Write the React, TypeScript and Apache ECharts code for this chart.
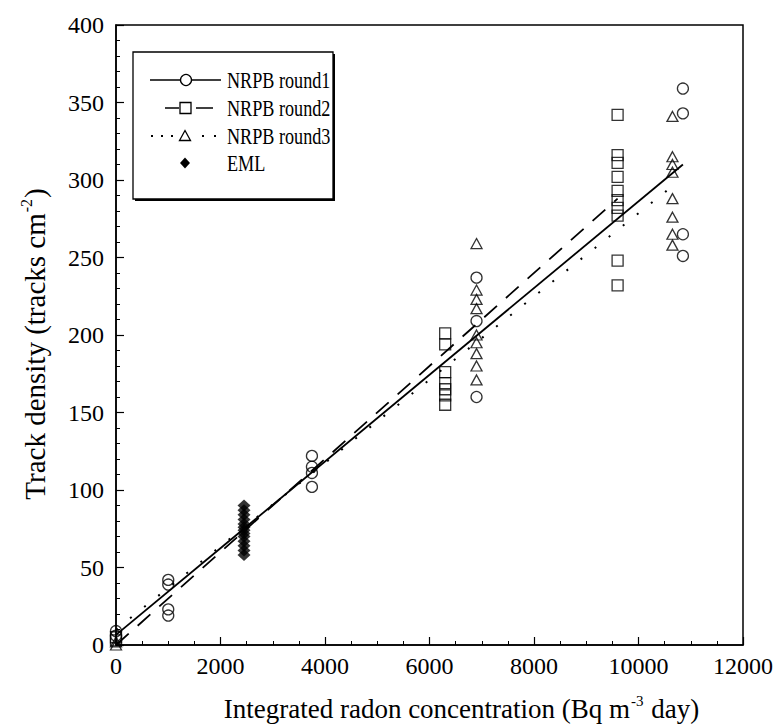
import React, { useEffect, useRef } from "react";
import * as echarts from "echarts";

// ---- data ----
const xTickValues = [0, 2000, 4000, 6000, 8000, 10000, 12000];
const yTickValues = [0, 50, 100, 150, 200, 250, 300, 350, 400];

const round1Points: [number, number][] = [
  [0, 9], [0, 6],
  [1000, 42], [1000, 39], [1000, 23], [1000, 19],
  [3750, 122], [3750, 115], [3750, 111], [3750, 102],
  [6900, 237], [6900, 209], [6900, 160],
  [10850, 359], [10850, 343], [10850, 265], [10850, 251],
];
const round2Points: [number, number][] = [
  [0, 5], [0, 3],
  [6300, 201], [6300, 194], [6300, 176], [6300, 169], [6300, 165], [6300, 161], [6300, 155],
  [9600, 342], [9600, 316], [9600, 311], [9600, 302], [9600, 293], [9600, 287],
  [9600, 282], [9600, 277], [9600, 248], [9600, 232],
];
const round3Points: [number, number][] = [
  [0, 2], [0, 0],
  [6900, 259], [6900, 229], [6900, 223], [6900, 217], [6900, 200], [6900, 195],
  [6900, 188], [6900, 180], [6900, 171],
  [10650, 341], [10650, 315], [10650, 310], [10650, 305], [10650, 288],
  [10650, 276], [10650, 265], [10650, 258],
];
const emlPoints: [number, number][] = [
  [2450, 90], [2450, 87], [2450, 84], [2450, 81], [2450, 78], [2450, 76], [2450, 74],
  [2450, 72], [2450, 70], [2450, 67], [2450, 64], [2450, 61], [2450, 58],
];
const round1Fit: [number, number][] = [[0, 6.5], [10850, 310]];
const round2Fit: [number, number][] = [[0, 0], [9600, 288]];
const round3Fit: [number, number][] = [[0, 10], [10650, 296]];

const legendNames = ["NRPB round1", "NRPB round2", "NRPB round3", "EML"];

const SERIF = "'Liberation Serif', 'Times New Roman', serif";

export default function App() {
  const ref = useRef<HTMLDivElement>(null);

  useEffect(() => {
    document.body.style.margin = "0";
    const chart = echarts.init(ref.current!, null, { renderer: "svg" });
    const open = { color: "rgba(255,255,255,0)", borderColor: "#000", borderWidth: 1.3 };

    const lx = 227; // legend text x
    const rows = [80, 108, 136, 163];
    const mx = 185;
    const fs = 23;

    chart.setOption({
      animation: false,
      backgroundColor: "#fff",
      grid: {
        left: 116, right: 34, top: 25, bottom: 83,
        show: true, borderColor: "#000", borderWidth: 1.5, backgroundColor: "transparent",
      },
      xAxis: {
        type: "value", min: 0, max: 12000, interval: 2000,
        axisLine: { lineStyle: { color: "#000", width: 1.5 } },
        axisTick: { inside: true, length: 8, lineStyle: { color: "#000", width: 1.2 } },
        minorTick: { show: true, splitNumber: 4, length: 4, lineStyle: { color: "#000", width: 1 } },
        splitLine: { show: false },
        axisLabel: {
          color: "#000", fontFamily: SERIF, fontSize: 24, margin: 9,
          formatter: (v: number) => (xTickValues.includes(v) ? String(v) : ""),
        },
        name: "{a|Integrated radon concentration (Bq m}{s|-3}{a| day)}",
        nameLocation: "middle", nameGap: 48,
        nameTextStyle: {
          padding: [0, 0, 0, 64],
          rich: {
            a: { fontFamily: SERIF, fontSize: 27, color: "#000", lineHeight: 32 },
            s: { fontFamily: SERIF, fontSize: 15, color: "#000", verticalAlign: "top", lineHeight: 32, padding: [0, 1, 0, 1] },
          },
        },
      },
      yAxis: {
        type: "value", min: 0, max: 400, interval: 50,
        axisLine: { lineStyle: { color: "#000", width: 1.5 } },
        axisTick: { inside: true, length: 8, lineStyle: { color: "#000", width: 1.2 } },
        minorTick: { show: true, splitNumber: 5, length: 4, lineStyle: { color: "#000", width: 1 } },
        splitLine: { show: false },
        axisLabel: {
          color: "#000", fontFamily: SERIF, fontSize: 24, margin: 12,
          formatter: (v: number) => (yTickValues.includes(v) ? String(v) : ""),
        },
        name: "{a|Track density (tracks cm}{s|-2}{a|)}",
        nameLocation: "middle", nameRotate: 90, nameGap: 64,
        nameTextStyle: {
          padding: [0, 18, 0, 0],
          rich: {
            a: { fontFamily: SERIF, fontSize: 29, color: "#000", lineHeight: 34 },
            s: { fontFamily: SERIF, fontSize: 16, color: "#000", verticalAlign: "top", lineHeight: 34, padding: [0, 1, 0, 1] },
          },
        },
      },
      series: [
        { name: legendNames[0] + " fit", type: "line", data: round1Fit, showSymbol: false, symbol: "none",
          lineStyle: { color: "#000", width: 1.8 }, z: 2 },
        { name: legendNames[1] + " fit", type: "line", data: round2Fit, showSymbol: false, symbol: "none",
          lineStyle: { color: "#000", width: 1.8, type: [17, 12] }, z: 2 },
        { name: legendNames[2] + " fit", type: "line", data: round3Fit, showSymbol: false, symbol: "none",
          lineStyle: { color: "#000", width: 2, type: [2, 16] }, z: 2 },
        { name: legendNames[0], type: "scatter", data: round1Points, symbol: "circle", symbolSize: 11, itemStyle: open, z: 3 },
        { name: legendNames[1], type: "scatter", data: round2Points, symbol: "rect", symbolSize: 11, itemStyle: open, z: 3 },
        { name: legendNames[2], type: "scatter", data: round3Points, symbol: "triangle", symbolSize: [11, 10], itemStyle: open, z: 3 },
        { name: legendNames[3], type: "scatter", data: emlPoints, symbol: "diamond", symbolSize: [13, 12],
          itemStyle: { color: "#000" }, z: 3 },
      ],
      graphic: [
        { type: "rect", z: 100, shape: { x: 135, y: 54, width: 200, height: 147 }, style: { fill: "#000" } },
        { type: "rect", z: 101, shape: { x: 133, y: 52, width: 200, height: 147 }, style: { fill: "#fff", stroke: "#000", lineWidth: 1.3 } },
        // row 1
        { type: "line", z: 102, shape: { x1: 150, y1: rows[0], x2: 221, y2: rows[0] }, style: { stroke: "#000", lineWidth: 1.5 } },
        { type: "circle", z: 103, shape: { cx: mx + 1, cy: rows[0], r: 5.5 }, style: { fill: "#fff", stroke: "#000", lineWidth: 1.3 } },
        // row 2
        { type: "line", z: 102, shape: { x1: 165, y1: rows[1], x2: 179, y2: rows[1] }, style: { stroke: "#000", lineWidth: 1.5 } },
        { type: "line", z: 102, shape: { x1: 196, y1: rows[1], x2: 213, y2: rows[1] }, style: { stroke: "#000", lineWidth: 1.5 } },
        { type: "rect", z: 103, shape: { x: mx - 5, y: rows[1] - 5.5, width: 11, height: 11 }, style: { fill: "#fff", stroke: "#000", lineWidth: 1.3 } },
        // row 3
        { type: "line", z: 102, shape: { x1: 151, y1: rows[2], x2: 176, y2: rows[2] }, style: { stroke: "#000", lineWidth: 1.8, lineDash: [2, 8] } },
        { type: "line", z: 102, shape: { x1: 202, y1: rows[2], x2: 219, y2: rows[2] }, style: { stroke: "#000", lineWidth: 1.8, lineDash: [2, 10] } },
        { type: "polygon", z: 103, shape: { points: [[mx, rows[2] - 5.5], [mx + 5.5, rows[2] + 4.5], [mx - 5.5, rows[2] + 4.5]] },
          style: { fill: "#fff", stroke: "#000", lineWidth: 1.3 } },
        // row 4
        { type: "polygon", z: 103, shape: { points: [[mx, rows[3] - 5.5], [mx + 5, rows[3]], [mx, rows[3] + 5.5], [mx - 5, rows[3]]] },
          style: { fill: "#000" } },
        ...legendNames.map((n, i) => ({
          type: "text", z: 104, x: lx, y: rows[i], scaleX: 0.79,
          style: { text: n, fill: "#000", font: `${fs}px ${SERIF}`, textVerticalAlign: "middle", verticalAlign: "middle" },
        })),
      ],
    });
    return () => chart.dispose();
  }, []);

  return <div ref={ref} style={{ position: "fixed", left: 0, top: 0, width: 777, height: 728 }} />;
}
